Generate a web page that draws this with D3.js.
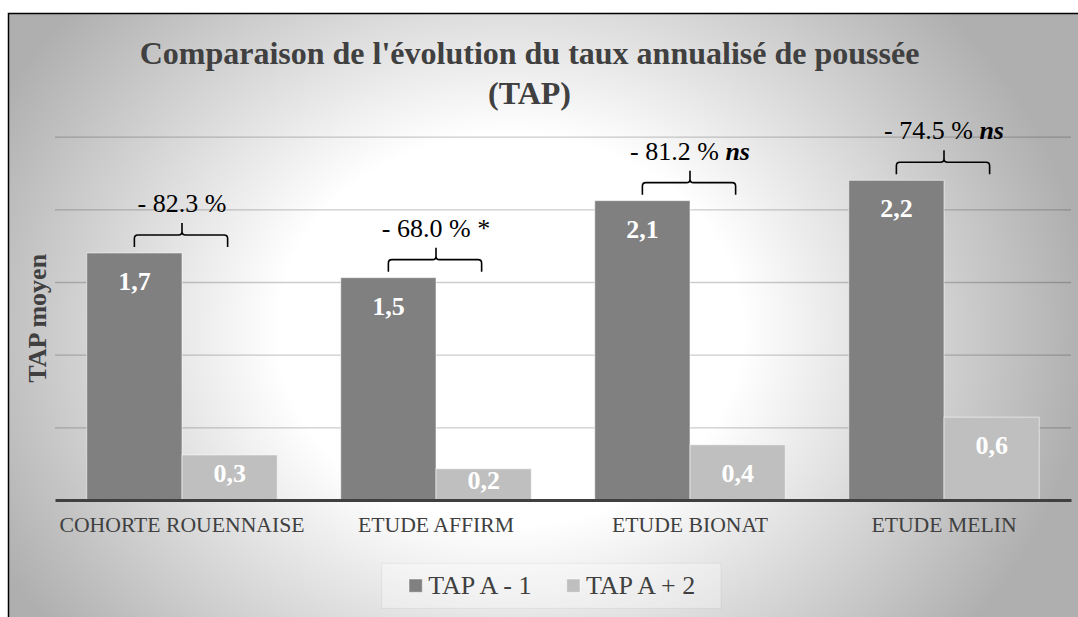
<!DOCTYPE html>
<html>
<head>
<meta charset="utf-8">
<script src="https://cdn.jsdelivr.net/npm/d3@7"></script>
<style>
  html, body { margin: 0; padding: 0; background: #ffffff; }
  svg { display: block; }
  svg text { font-family: "Liberation Serif", "Times New Roman", Times, serif !important; }
</style>
</head>
<body>
<div id="chart"></div>
<script>
// ---------- data ----------
const categories = ["COHORTE ROUENNAISE", "ETUDE AFFIRM", "ETUDE BIONAT", "ETUDE MELIN"];
const seriesNames = ["TAP A - 1", "TAP A + 2"];
const tapBefore = [1.7, 1.53, 2.06, 2.2];
const tapAfter = [0.31, 0.215, 0.38, 0.57];
const reductionLabels = ["- 82.3 %", "- 68.0 %", "- 81.2 %", "- 74.5 %"];
const significance = ["", "*", "ns", "ns"];
const yTicks = [0.5, 1, 1.5, 2, 2.5];
const titleLines = ["Comparaison de l'évolution du taux annualisé de poussée", "(TAP)"];
const yTitle = "TAP moyen";

// ---------- setup ----------
const W = 1078, H = 617;
const svg = d3.select("#chart").append("svg").attr("width", W).attr("height", H);

const defs = svg.append("defs");
const grad = defs.append("radialGradient")
  .attr("id", "bg")
  .attr("gradientUnits", "userSpaceOnUse")
  .attr("cx", 510).attr("cy", 330).attr("r", 580)
  .attr("gradientTransform", "translate(510,330) scale(1,0.84) translate(-510,-330)");
grad.append("stop").attr("offset", 0).attr("stop-color", "#ffffff");
grad.append("stop").attr("offset", 0.4).attr("stop-color", "#ffffff");
grad.append("stop").attr("offset", 1).attr("stop-color", "#afafaf");

// chart frame (continues past the picture edge)
svg.append("rect")
  .attr("x", 8.5).attr("y", 13.5).attr("width", 1120).attr("height", 660)
  .attr("fill", "url(#bg)").attr("stroke", "#000").attr("stroke-width", 1.5);

const plot = { left: 55, right: 1071, top: 136.7, bottom: 500 };

const x = d3.scaleBand().domain(categories)
  .range([plot.left, plot.right]).paddingInner(0.25).paddingOuter(0.125);
const xs = d3.scaleBand().domain(seriesNames).range([0, x.bandwidth()]);
const y = d3.scaleLinear().domain([0, 2.5]).range([plot.bottom, plot.top]);

const fmt = d3.formatLocale({ decimal: ",", thousands: " ", grouping: [3], currency: ["", ""] }).format(".1f");

// gridlines via axis
const grid = svg.append("g")
  .attr("transform", `translate(${plot.left},0)`)
  .call(d3.axisRight(y).tickValues(yTicks).tickSize(plot.right - plot.left).tickFormat(""));
grid.select(".domain").remove();
grid.selectAll(".tick line").attr("stroke", "#000").attr("stroke-opacity", 0.2).attr("stroke-width", 1.3);

// bars
const colors = { "TAP A - 1": "#808080", "TAP A + 2": "#bfbfbf" };
const rows = categories.map((c, i) => ({ cat: c, vals: [tapBefore[i], tapAfter[i]] }));

const groups = svg.append("g").selectAll("g").data(rows).join("g")
  .attr("transform", d => `translate(${x(d.cat)},0)`);

groups.selectAll("rect").data(d => d.vals.map((v, j) => ({ s: seriesNames[j], v })))
  .join("rect")
  .attr("x", d => xs(d.s))
  .attr("y", d => y(d.v))
  .attr("width", xs.bandwidth())
  .attr("height", d => y(0) - y(d.v))
  .attr("fill", d => colors[d.s])
  .attr("stroke", "#ffffff").attr("stroke-opacity", 0.55).attr("stroke-width", 1);

// data labels
groups.selectAll("text.val").data(d => d.vals.map((v, j) => ({ s: seriesNames[j], v })))
  .join("text").attr("class", "val")
  .attr("x", d => xs(d.s) + xs.bandwidth() / 2)
  .attr("y", d => {
    const top = y(d.v), h = y(0) - top;
    return h > 50 ? top + 37 : (top + y(0)) / 2 + 5;
  })
  .attr("text-anchor", "middle")
  .attr("font-size", 26).attr("font-weight", "bold").attr("fill", "#ffffff")
  .text(d => fmt(d.v));

// x axis line
const xAxis = svg.append("g").attr("transform", `translate(0,${plot.bottom})`)
  .call(d3.axisBottom(x).tickSize(0).tickPadding(0));
xAxis.attr("font-family", null);
xAxis.select(".domain").attr("stroke", "#404040").attr("stroke-width", 3.2);
xAxis.selectAll(".tick text")
  .attr("y", 32).attr("dy", 0)
  .attr("font-size", 21.7).attr("fill", "#404040");

// brackets & annotations
const ann = svg.append("g");
rows.forEach((d, i) => {
  const gx = x(d.cat);
  const x0 = gx + xs(seriesNames[0]) + xs.bandwidth() / 2;
  const x1 = gx + xs(seriesNames[1]) + xs.bandwidth() / 2 - 2;
  const xc = gx + x.bandwidth() / 2;
  const top = y(Math.max(...d.vals));
  const yb = top - 6, yh = top - 18, yt = yh - 12, r = 3.5;
  const p = `M${x0},${yb} L${x0},${yh + r} Q${x0},${yh} ${x0 + r},${yh} L${xc - r},${yh} Q${xc},${yh} ${xc},${yh - r} L${xc},${yt}` +
            ` M${xc},${yh - r} Q${xc},${yh} ${xc + r},${yh} L${x1 - r},${yh} Q${x1},${yh} ${x1},${yh + r} L${x1},${yb}`;
  ann.append("path").attr("d", p).attr("fill", "none").attr("stroke", "#000").attr("stroke-width", 1.6);
  const t = ann.append("text")
    .attr("x", xc).attr("y", top - 41)
    .attr("text-anchor", "middle").attr("font-size", 26).attr("fill", "#000");
  t.append("tspan").text(reductionLabels[i]);
  if (significance[i]) {
    const sp = t.append("tspan").text(" " + significance[i]);
    if (significance[i] === "ns") sp.attr("font-weight", "bold").attr("font-style", "italic");
  }
});

// title
svg.append("g").selectAll("text").data(titleLines).join("text")
  .attr("x", 529.5).attr("y", (d, i) => 64 + i * 40)
  .attr("text-anchor", "middle")
  .attr("font-size", 32).attr("font-weight", "bold").attr("fill", "#404040")
  .text(d => d);

// y title
svg.append("text")
  .attr("transform", "translate(46,318.3) rotate(-90)")
  .attr("text-anchor", "middle")
  .attr("font-size", 26).attr("font-weight", "bold").attr("fill", "#404040")
  .text(yTitle);

// legend
const lg = svg.append("g");
lg.append("rect").attr("x", 381.7).attr("y", 563.3).attr("width", 339.3).attr("height", 45)
  .attr("fill", "#ffffff").attr("fill-opacity", 0.3)
  .attr("stroke", "#000").attr("stroke-opacity", 0.05);
const legendX = [409, 566.7];
seriesNames.forEach((s, i) => {
  lg.append("rect").attr("x", legendX[i]).attr("y", 579).attr("width", 13.3).attr("height", 13.3)
    .attr("fill", colors[s]).attr("stroke", "#fff").attr("stroke-opacity", 0.5);
  lg.append("text").attr("x", legendX[i] + 19.3).attr("y", 594)
    .attr("font-size", 26).attr("fill", "#404040").text(s);
});
</script>
</body>
</html>
